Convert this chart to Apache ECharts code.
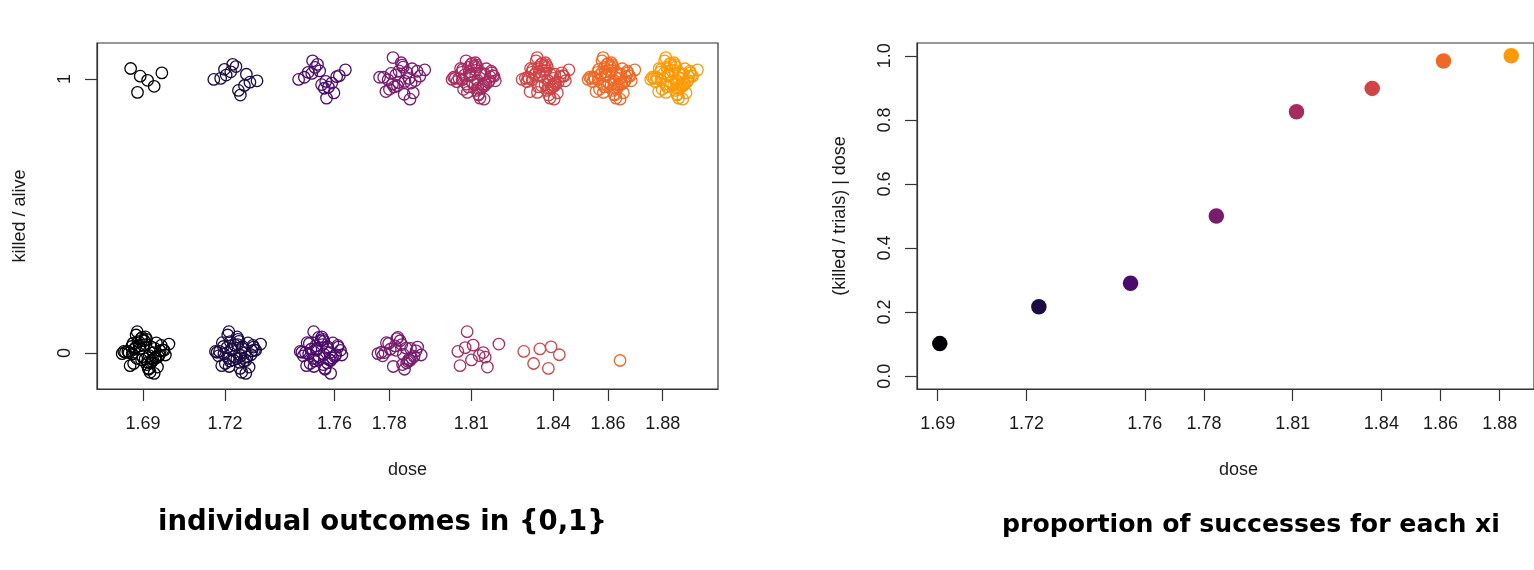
<!DOCTYPE html>
<html>
<head>
<meta charset="utf-8">
<script src="https://cdn.jsdelivr.net/npm/echarts@6/dist/echarts.min.js"></script>
<style>
  html, body { margin: 0; padding: 0; background: #fff; }
  #chart { width: 1534px; height: 570px; }
</style>
</head>
<body>
<div id="chart"></div>
<script>
// ---- data (beetle mortality) ----
const dose    = [1.6907, 1.7242, 1.7552, 1.7842, 1.8113, 1.8369, 1.8610, 1.8839];
const trials  = [59, 60, 62, 56, 63, 59, 62, 60];
const killed  = [6, 13, 18, 28, 52, 53, 61, 60];
const doseTicks    = [1.69, 1.72, 1.76, 1.78, 1.81, 1.84, 1.86, 1.88];
const outcomeTicks = [0, 1];
const propTicks    = [0, 0.2, 0.4, 0.6, 0.8, 1.0];
// hand-typed jitter offsets for the individual outcomes (dose units / outcome units)
const jitterX = [-0.0017, 0.0034, -0.0052, 0.0010, 0.0062, -0.0027, 0.0004, -0.0071, 0.0041, -0.0010,
                  0.0022, -0.0038, 0.0075, -0.0002, 0.0029, -0.0058, 0.0014, -0.0021, 0.0049, -0.0044,
                  0.0007, 0.0036, -0.0014, -0.0083, 0.0026, 0.0056, -0.0032, 0.0001, -0.0048, 0.0019,
                  0.0066, -0.0023, 0.0011, -0.0062, 0.0038, -0.0006, 0.0046, -0.0035, 0.0016, 0.0088,
                 -0.0028, -0.0012, 0.0031, -0.0054, 0.0006, 0.0053, -0.0018, -0.0041, 0.0023, -0.0077,
                  0.0013, 0.0042, -0.0008, 0.0060, -0.0030, 0.0002, -0.0046, 0.0034, 0.0070, -0.0024,
                  0.0009, -0.0066, 0.0020];
const jitterY = [ 0.010, -0.027, 0.038, -0.005, 0.022, -0.049, 0.031, 0.003, -0.018, 0.057,
                 -0.036, 0.014, -0.007, 0.045, -0.024, 0.002, -0.059, 0.026, -0.012, 0.035,
                 -0.042, 0.017, 0.053, -0.002, -0.030, 0.008, 0.066, -0.021, 0.024, -0.070,
                  0.012, 0.042, -0.034, 0.006, -0.015, 0.029, -0.051, 0.020, -0.009, 0.033,
                  0.078, -0.025, 0.002, -0.046, 0.050, -0.006, 0.015, -0.038, 0.023, 0.006,
                 -0.056, 0.037, -0.013, 0.028, -0.019, 0.059, -0.003, -0.074, 0.010, -0.029,
                  0.043, -0.010, 0.018];
const palette = ['#000004', '#1B0C42', '#4B0C6B', '#781C6D', '#A52C60', '#CF4446', '#ED6925', '#FB9A06'];

// ---- build series data ----
const indivData = [];
for (let g = 0; g < dose.length; g++) {
  for (let k = 0; k < trials[g]; k++) {
    const outcome = k < killed[g] ? 1 : 0;
    const j = (g * 11 + k) % jitterX.length;
    indivData.push({
      value: [dose[g] + jitterX[j], outcome + jitterY[j]],
      itemStyle: { color: 'rgba(0,0,0,0)', borderColor: palette[g], borderWidth: 1.3, opacity: 1 }
    });
  }
}
const propData = dose.map((d, g) => ({
  value: [d, killed[g] / trials[g]],
  itemStyle: { color: palette[g], opacity: 1 }
}));

const FONT = 'Liberation Sans, Arial, sans-serif';
const TXT = '#1a1a1a';
const LINE = '#333';

function xAx(gridIndex, min, max, namePad) {
  return {
    type: 'value', gridIndex, min, max,
    name: 'dose', nameLocation: 'middle', nameGap: 72,
    nameTextStyle: { fontFamily: FONT, fontSize: 18, color: TXT, padding: namePad },
    axisLine: { show: true, onZero: false, lineStyle: { color: LINE, width: 1.2 } },
    axisTick: { show: true, inside: false, length: 12, customValues: doseTicks, lineStyle: { color: LINE, width: 1.2 } },
    axisLabel: { customValues: doseTicks, margin: 26, fontFamily: FONT, fontSize: 18, color: TXT,
                 formatter: v => v.toFixed(2) },
    splitLine: { show: false }
  };
}
function yAx(gridIndex, min, max, ticks, name, fmt) {
  return {
    type: 'value', gridIndex, min, max,
    name, nameLocation: 'middle', nameGap: 68,
    nameTextStyle: { fontFamily: FONT, fontSize: 18, color: TXT },
    axisLine: { show: true, onZero: false, lineStyle: { color: LINE, width: 1.2 } },
    axisTick: { show: true, inside: false, length: 12, customValues: ticks, lineStyle: { color: LINE, width: 1.2 } },
    axisLabel: { customValues: ticks, margin: 23, rotate: 90, fontFamily: FONT, fontSize: 18, color: TXT,
                 formatter: fmt },
    splitLine: { show: false }
  };
}

const option = {
  backgroundColor: '#fff',
  animation: false,
  grid: [
    { left: 97, top: 43, width: 621, height: 346, show: true, borderColor: LINE, borderWidth: 1.2, backgroundColor: 'transparent' },
    { left: 917, top: 43, width: 621, height: 346, show: true, borderColor: LINE, borderWidth: 1.2, backgroundColor: 'transparent' }
  ],
  xAxis: [
    xAx(0, 1.6732, 1.9002, [0, 0, 0, 0]),
    xAx(1, 1.6830, 1.8916, [0, 0, 0, 26])
  ],
  yAxis: [
    yAx(0, -0.131, 1.131, outcomeTicks, 'killed / alive', v => String(v)),
    yAx(1, -0.04, 1.04, propTicks, '(killed / trials) | dose', v => v.toFixed(1))
  ],
  series: [
    { type: 'scatter', xAxisIndex: 0, yAxisIndex: 0, symbol: 'circle', symbolSize: 11.5, data: indivData },
    { type: 'scatter', xAxisIndex: 1, yAxisIndex: 1, symbol: 'circle', symbolSize: 15.5, data: propData }
  ],
  graphic: [
    { type: 'text', left: 158, top: 509,
      style: { text: 'individual outcomes in {0,1}', font: 'bold 27.5px "DejaVu Sans", sans-serif', fill: '#000' } },
    { type: 'text', left: 1002, top: 513,
      style: { text: 'proportion of successes for each xi', font: 'bold 25.2px "DejaVu Sans", sans-serif', fill: '#000' } }
  ]
};

const chart = echarts.init(document.getElementById('chart'), null, { renderer: 'canvas' });
chart.setOption(option);
</script>
</body>
</html>
